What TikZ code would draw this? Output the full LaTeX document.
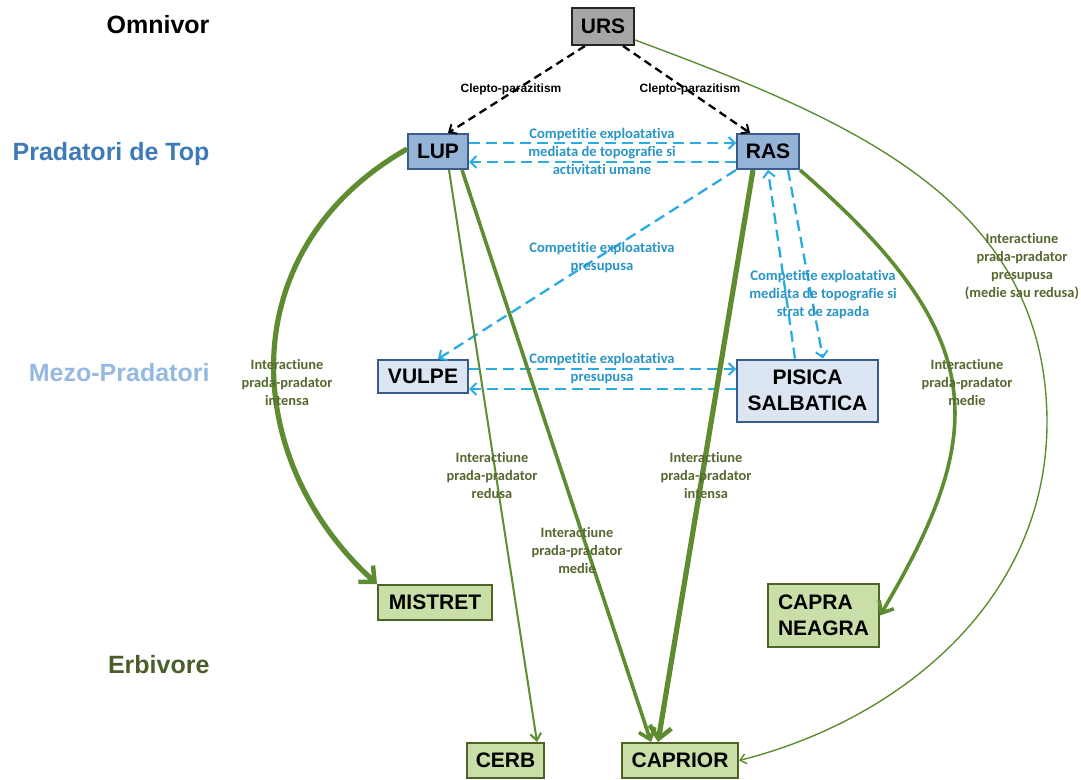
\documentclass[tikz,border=0pt]{standalone}
\usepackage{fontspec}
\usetikzlibrary{arrows.meta,calc}
\newfontfamily\nodefont{Liberation Sans}
\newfontfamily\labfont{Carlito}[Ligatures=NoCommon]
\definecolor{ursfill}{HTML}{A6A6A6}
\definecolor{ursline}{HTML}{262626}
\definecolor{topfill}{HTML}{95B3D7}
\definecolor{blueline}{HTML}{385D8A}
\definecolor{mezofill}{HTML}{DCE6F2}
\definecolor{herbfill}{HTML}{CADFA8}
\definecolor{greenline}{HTML}{4F6228}
\definecolor{edgegreen}{HTML}{5E8C31}
\definecolor{cyanline}{HTML}{2AABE2}
\definecolor{cyantext}{HTML}{2A95C5}
\definecolor{gtext}{HTML}{55682F}
\definecolor{toptext}{HTML}{3D7AB8}
\definecolor{mezotext}{HTML}{95B9E0}
\definecolor{herbtext}{HTML}{4A5E2A}
\begin{document}
\begin{tikzpicture}[x=1pt,y=-1pt,
  box/.style={draw, line width=2pt, inner sep=0pt, align=center,
    font=\nodefont\bfseries\fontsize{21}{26}\selectfont, text=black},
  ursbox/.style={box, fill=ursfill, draw=ursline},
  topbox/.style={box, fill=topfill, draw=blueline},
  mezobox/.style={box, fill=mezofill, draw=blueline},
  herbbox/.style={box, fill=herbfill, draw=greenline},
  level/.style={anchor=east, font=\nodefont\bfseries\fontsize{25}{30}\selectfont},
  clab/.style={font=\labfont\bfseries\fontsize{14.6}{18}\selectfont, text=cyantext, align=center},
  glab/.style={font=\labfont\bfseries\fontsize{14.4}{18}\selectfont, text=gtext, align=center},
  klab/.style={font=\nodefont\bfseries\fontsize{12}{14}\selectfont, text=black},
  kleptoedge/.style={draw=black, line width=2.3pt, dash pattern=on 8pt off 5pt,
    -{Straight Barb[length=6pt,width=11pt,line width=2pt]}},
  compedge/.style={draw=cyanline, line width=2.3pt, dash pattern=on 11pt off 6pt,
    -{Straight Barb[length=6pt,width=12pt,line width=2pt]}},
  preythin/.style={draw=edgegreen, line width=1.4pt, -{Straight Barb[length=6pt,width=10pt,line width=1.4pt]}},
  preylight/.style={draw=edgegreen, line width=2pt, -{Straight Barb[length=7pt,width=11pt,line width=2pt]}},
  preymid/.style={draw=edgegreen, line width=3.6pt, -{Straight Barb[length=10pt,width=17pt,line width=3.6pt]}},
  preythick/.style={draw=edgegreen, line width=5.2pt, -{Straight Barb[length=12pt,width=22pt,line width=4.5pt]}},
]
\useasboundingbox (0,0) rectangle (1081,779);

% level labels
\node[level, text=black]    (lomn) at (213,25)  {Omnivor};
\node[level, text=toptext]  (ltop) at (213,154) {Pradatori de Top};
\node[level, text=mezotext] (lmez) at (213,373) {Mezo-Pradatori};
\node[level, text=herbtext] (lerb) at (213,665) {Erbivore};

% animal nodes
\node[ursbox, minimum width=62pt, minimum height=37pt]  (urs) at (603,26.5) {URS};
\node[topbox, minimum width=60pt, minimum height=35pt]  (lup) at (438,151.5) {LUP};
\node[topbox, minimum width=62pt, minimum height=35pt]  (ras) at (768,151.5) {RAS};
\node[mezobox, minimum width=90pt, minimum height=33pt] (vulpe) at (423,376.5) {VULPE};
\node[mezobox, minimum width=141pt, minimum height=62pt] (pisica) at (807.5,390.5) {PISICA\\SALBATICA};
\node[herbbox, minimum width=114pt, minimum height=35pt] (mistret) at (435,602.5) {MISTRET};
\node[herbbox, minimum width=111pt, minimum height=63pt, align=left] (capra) at (823.5,615.5) {CAPRA\\NEAGRA};
\node[herbbox, minimum width=77pt, minimum height=35pt] (cerb) at (505.5,760.5) {CERB};
\node[herbbox, minimum width=116pt, minimum height=35pt] (caprior) at (680,760.5) {CAPRIOR};

% clepto-parasitism
\draw[kleptoedge] ([xshift=-18pt]urs.south) -- ([xshift=10pt]lup.north);
\draw[kleptoedge] ([xshift=20pt]urs.south) -- ([xshift=-18pt]ras.north);
\node[klab] (k1) at (511,89) {Clepto-parazitism};
\node[klab] (k2) at (690,89) {Clepto-parazitism};

% competition
\draw[compedge] ([yshift=8.5pt]lup.east) -- ([yshift=8.5pt]ras.west);
\draw[compedge] ([yshift=-10.5pt]ras.west) -- ([yshift=-10.5pt]lup.east);
\node[clab] (c1) at (602,151) {Competitie exploatativa\\mediata de topografie si\\activitati umane};
\draw[compedge] (ras.south west) -- ([xshift=15pt]vulpe.north);
\node[clab] (c2) at (602,258) {Competitie exploatativa\\presupusa};
\draw[compedge] ([yshift=7.5pt]vulpe.east) -- ([yshift=21.5pt]pisica.west);
\draw[compedge] ([yshift=1.5pt]pisica.west) -- ([yshift=-12.5pt]vulpe.east);
\node[clab] (c3) at (602,369) {Competitie exploatativa\\presupusa};
\draw[compedge] ([xshift=-12.5pt]pisica.north) -- (ras.south);
\draw[compedge] ([xshift=20pt]ras.south) -- ([xshift=15.5pt]pisica.north);
\node[clab] (c4) at (823,295) {Competitie exploatativa\\mediata de topografie si\\strat de zapada};

% predation
\draw[preythick] ([yshift=2.5pt]lup.west) .. controls (230,250) and (240,460) .. (mistret.north west);
\node[glab] (g1) at (287,382) {Interactiune\\prada-pradator\\intensa};
\draw[preylight] ([xshift=11pt]lup.south) -- ([xshift=31.5pt]cerb.north);
\node[glab] (g2) at (492,475) {Interactiune\\prada-pradator\\redusa};
\draw[preymid] ([xshift=24pt]lup.south) -- ([xshift=-29pt]caprior.north);
\node[glab] (g3) at (577,550) {Interactiune\\prada-pradator\\medie};
\draw[preythick] ([xshift=-15pt]ras.south) -- ([xshift=-22pt]caprior.north);
\node[glab] (g4) at (706,475) {Interactiune\\prada-pradator\\intensa};
\draw[preymid] (ras.south east) .. controls (990,335) and (990,430) .. (capra.east);
\node[glab] (g5) at (967,382) {Interactiune\\prada-pradator\\medie};
\draw[preythin] ([yshift=-13.5pt]urs.east) .. controls (850,120) and (1045,200) .. (1047,420)
  .. controls (1048,600) and (900,720) .. (caprior.east);
\node[glab] (g6) at (1022,267) {Interactiune\\prada-pradator\\presupusa\\(medie sau redusa)};
\end{tikzpicture}
\end{document}
